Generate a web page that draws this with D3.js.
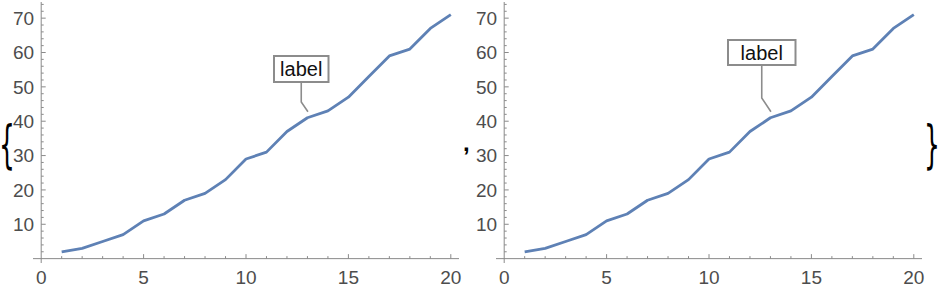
<!DOCTYPE html>
<html><head><meta charset="utf-8">
<script src="https://cdn.jsdelivr.net/npm/d3@7"></script>
<style>body{margin:0;background:#fff}svg{display:block}</style>
</head><body>
<svg id="c" width="940" height="290"></svg>
<script>
const xs = [1,2,3,4,5,6,7,8,9,10,11,12,13,14,15,16,17,18,19,20];
const ys = [2,3,5,7,11,13,17,19,23,29,31,37,41,43,47,53,59,61,67,71];
const xTicks = [0,5,10,15,20];
const yTicks = [10,20,30,40,50,60,70];
const labelText = "label";
const labelAt = [13, 41];

const svg = d3.select("#c");
const font = "'Liberation Sans', Arial, sans-serif";

function panel(ox, box) {
  const g = svg.append("g").attr("transform", `translate(${ox},0)`);
  const x = d3.scaleLinear().domain([-0.4, 20.4]).range([33, 459]);
  const y = d3.scaleLinear().domain([-1.27, 74.7]).range([263, 2]);
  const axisCol = "#8a8a8a";
  const tickCol = "#4d4d4d";
  g.append("line").attr("x1", x(-0.4)).attr("x2", x(20.4)).attr("y1", y(0)).attr("y2", y(0))
    .attr("stroke", axisCol).attr("stroke-width", 1);
  g.append("line").attr("x1", x(0)).attr("x2", x(0)).attr("y1", y(-1.27)).attr("y2", y(74.7))
    .attr("stroke", axisCol).attr("stroke-width", 1);
  const xMinor = d3.range(1, 21).filter(v => v % 5 !== 0);
  g.selectAll(".xmaj").data(xTicks.filter(v => v !== 0)).enter().append("line")
    .attr("x1", d => x(d)).attr("x2", d => x(d)).attr("y1", y(0)).attr("y2", y(0) - 4.5)
    .attr("stroke", axisCol);
  g.selectAll(".xmin").data(xMinor).enter().append("line")
    .attr("x1", d => x(d)).attr("x2", d => x(d)).attr("y1", y(0)).attr("y2", y(0) - 2.5)
    .attr("stroke", axisCol);
  g.selectAll(".xl").data(xTicks).enter().append("text")
    .attr("x", d => x(d)).attr("y", 284).attr("text-anchor", "middle")
    .attr("font-family", font).attr("font-size", 19).attr("fill", tickCol).text(d => d);
  const yMinor = d3.range(2, 75, 2).filter(v => v % 10 !== 0);
  g.selectAll(".ymaj").data(yTicks).enter().append("line")
    .attr("x1", x(0)).attr("x2", x(0) + 4.5).attr("y1", d => y(d)).attr("y2", d => y(d))
    .attr("stroke", axisCol);
  g.selectAll(".ymin").data(yMinor).enter().append("line")
    .attr("x1", x(0)).attr("x2", x(0) + 2.5).attr("y1", d => y(d)).attr("y2", d => y(d))
    .attr("stroke", axisCol);
  g.selectAll(".yl").data(yTicks).enter().append("text")
    .attr("x", x(0) - 7).attr("y", d => y(d) + 6.8).attr("text-anchor", "end")
    .attr("font-family", font).attr("font-size", 19).attr("fill", tickCol).text(d => d);
  const pts = xs.map((v, i) => [v, ys[i]]);
  g.append("path").datum(pts)
    .attr("d", d3.line().x(d => x(d[0])).y(d => y(d[1])))
    .attr("fill", "none").attr("stroke", "#5e81b5").attr("stroke-width", 2.8)
    .attr("stroke-linejoin", "round");
  const px = x(labelAt[0]), py = y(labelAt[1]);
  const cx = (box.x0 + box.x1) / 2;
  g.append("path")
    .attr("d", `M${cx},${box.y1} L${cx},${box.ky} L${px + 0.5},${py - 6}`)
    .attr("fill", "none").attr("stroke", "#8c8c8c").attr("stroke-width", 1.6);
  g.append("rect").attr("x", box.x0).attr("y", box.y0)
    .attr("width", box.x1 - box.x0).attr("height", box.y1 - box.y0)
    .attr("fill", "#fff").attr("stroke", "#8c8c8c").attr("stroke-width", 2);
  g.append("text").attr("x", cx).attr("y", (box.y0 + box.y1) / 2 + 7)
    .attr("text-anchor", "middle").attr("font-family", font).attr("font-size", 20)
    .attr("fill", "#111").text(labelText);
}

panel(0, {x0: 274, x1: 328.5, y0: 56, y1: 82, ky: 102});
panel(463, {x0: 265, x1: 332.5, y0: 40, y1: 65, ky: 98});

// list punctuation
svg.append("text").attr("transform", "translate(-1,162) scale(1.25,2.6)")
  .attr("font-family", "'DejaVu Sans', sans-serif")
  .attr("font-size", 20).attr("fill", "#000")
  .text("{");
svg.append("text").attr("transform", "translate(940,162) scale(1.25,2.6)")
  .attr("text-anchor", "end")
  .attr("font-family", "'DejaVu Sans', sans-serif")
  .attr("font-size", 20).attr("fill", "#000")
  .text("}");
svg.append("text").attr("x", 463).attr("y", 151)
  .attr("font-family", font).attr("font-size", 24).attr("font-weight", "bold").attr("fill", "#000").text(",");
</script>
</body></html>
